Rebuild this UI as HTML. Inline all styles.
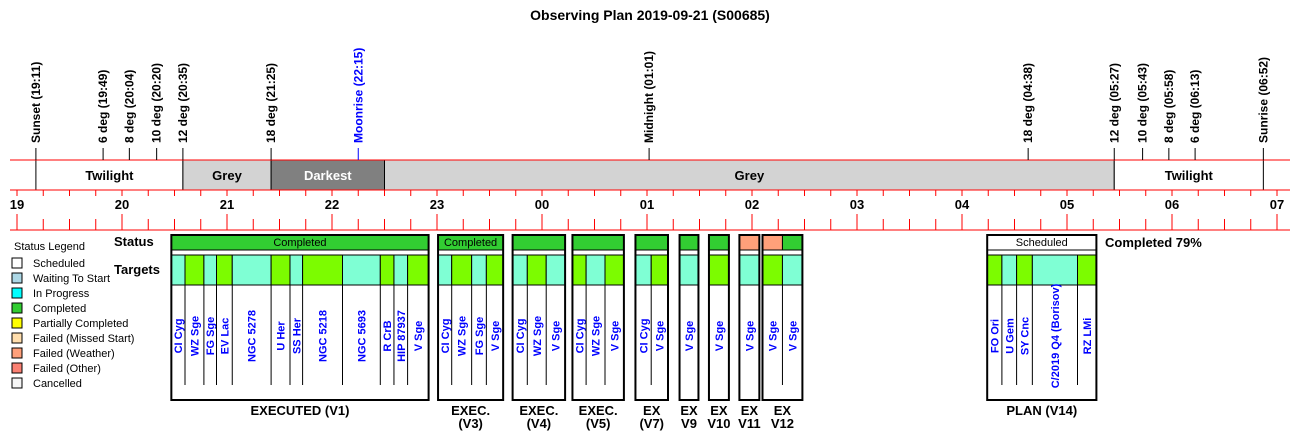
<!DOCTYPE html>
<html><head><meta charset="utf-8"><style>
body{margin:0;background:#fff}
svg{font-family:"Liberation Sans",Arial,sans-serif;display:block}
</style></head><body>
<svg id="c" width="1300" height="431" viewBox="0 0 1300 431">
<text x="650" y="20" text-anchor="middle" font-size="14" font-weight="bold">Observing Plan 2019-09-21 (S00685)</text>
</svg>
<script>
const hourLabels=["19","20","21","22","23","00","01","02","03","04","05","06","07"];
const eventNames=["Sunset (19:11)","6 deg (19:49)","8 deg (20:04)","10 deg (20:20)","12 deg (20:35)","18 deg (21:25)","Moonrise (22:15)","Midnight (01:01)","18 deg (04:38)","12 deg (05:27)","10 deg (05:43)","8 deg (05:58)","6 deg (06:13)","Sunrise (06:52)"];
const eventTimes=[19.18,19.82,20.07,20.33,20.58,21.42,22.25,25.02,28.63,29.45,29.72,29.97,30.22,30.87];
const eventBlue=[0,0,0,0,0,0,1,0,0,0,0,0,0,0];
const bandNames=["Twilight","Grey","Darkest","Grey","Twilight"];
const bandStart=[19.18,20.58,21.42,22.5,29.45];
const bandEnd=[20.58,21.42,22.5,29.45,30.87];
const bandFill=["#ffffff","#d3d3d3","#808080","#d3d3d3","#ffffff"];
const blockNames=[["EXECUTED (V1)"],["EXEC.","(V3)"],["EXEC.","(V4)"],["EXEC.","(V5)"],["EX","(V7)"],["EX","V9"],["EX","V10"],["EX","V11"],["EX","V12"],["PLAN (V14)"]];
const blockStatus=["Completed","Completed","","","","","","","","Scheduled"];
const targetBlock=[0,0,0,0,0,0,0,0,0,0,0,0, 1,1,1,1, 2,2,2, 3,3,3, 4,4, 5, 6, 7, 8,8, 9,9,9,9,9];
const targetNames=["CI Cyg","WZ Sge","FG Sge","EV Lac","NGC 5278","U Her","SS Her","NGC 5218","NGC 5693","R CrB","HIP 87937","V Sge","CI Cyg","WZ Sge","FG Sge","V Sge","CI Cyg","WZ Sge","V Sge","CI Cyg","WZ Sge","V Sge","CI Cyg","V Sge","V Sge","V Sge","V Sge","V Sge","V Sge","FO Ori","U Gem","SY Cnc","C/2019 Q4 (Borisov)","RZ LMi"];
const targetStart=[20.47,20.6,20.78,20.9,21.05,21.42,21.6,21.72,22.1,22.46,22.59,22.72, 23.01,23.14,23.33,23.47, 23.72,23.86,24.04, 24.29,24.42,24.6, 24.89,25.04, 25.31, 25.59, 25.88, 26.1,26.29, 28.24,28.38,28.52,28.67,29.1];
const targetEnd=[20.6,20.78,20.9,21.05,21.42,21.6,21.72,22.1,22.46,22.59,22.72,22.92, 23.14,23.33,23.47,23.63, 23.86,24.04,24.22, 24.42,24.6,24.78, 25.04,25.2, 25.49, 25.78, 26.07, 26.29,26.48, 28.38,28.52,28.67,29.1,29.28];
const targetColor=[0,1,0,1,0,1,0,1,0,1,0,1, 0,1,0,1, 0,1,0, 1,0,1, 0,1, 0, 1, 0, 1,0, 1,0,1,0,1];
const segBlock=[0,1,2,3,4,5,6,7,8,8,9];
const segStart=[20.47,23.01,23.72,24.29,24.89,25.31,25.59,25.88,26.1,26.29,28.24];
const segEnd=[22.92,23.63,24.22,24.78,25.2,25.49,25.78,26.07,26.29,26.48,29.28];
const segFill=["#32cd32","#32cd32","#32cd32","#32cd32","#32cd32","#32cd32","#32cd32","#ffa07a","#ffa07a","#32cd32","#ffffff"];
const legendNames=["Scheduled","Waiting To Start","In Progress","Completed","Partially Completed","Failed (Missed Start)","Failed (Weather)","Failed (Other)","Cancelled"];
const legendColors=["#ffffff","#add8e6","#00ffff","#32cd32","#ffff00","#ffdead","#ffa07a","#fa8072","#f5f5f5"];

const svg=document.getElementById('c');const NS="http://www.w3.org/2000/svg";
function x(h){return 17+105*(h-19);}
function mk(tag,a,txt){const e=document.createElementNS(NS,tag);for(const k in a)e.setAttribute(k,a[k]);if(txt!==undefined)e.textContent=txt;svg.appendChild(e);return e;}
// bands
bandNames.forEach((n,i)=>{
 const r=mk('rect',{x:x(bandStart[i]),y:160,width:x(bandEnd[i])-x(bandStart[i]),height:30,fill:bandFill[i],stroke:'#000','stroke-width':1});
 
 
 const t=mk('text',{x:(x(bandStart[i])+x(bandEnd[i]))/2,y:180,'text-anchor':'middle','font-size':13,'font-weight':'bold',fill:n=="Darkest"?'#fff':'#000'},n);
 
 
});
[160,190,230].forEach(y=>{const l=mk('line',{x1:10,x2:1290,y1:y,y2:y,stroke:'#f00','stroke-width':1});
 
 });
// events
eventNames.forEach((n,i)=>{
 const c=eventBlue[i]?'#00f':'#000';const ex=x(eventTimes[i]);
 const l=mk('line',{x1:ex,x2:ex,y1:148,y2:160,stroke:c});
 
 
 const t=mk('text',{x:0,y:0,transform:`translate(${ex+4},143) rotate(-90)`,'font-size':12,'font-weight':'bold',fill:c},n);
 
 
});
// hour ticks
for(let q=0;q<=48;q++){
 const h=19+q/4;const tx=x(h);const major=q%4==0;
 const a=mk('line',{x1:tx,x2:tx,y1:190,y2:196,stroke:'#f00'});
 
 
 const b=mk('line',{x1:tx,x2:tx,y1:major?214:219,y2:230,stroke:'#f00'});
 
 
}
hourLabels.forEach((l,i)=>{const t=mk('text',{x:x(19+i),y:209,'text-anchor':'middle','font-size':13,'font-weight':'bold'},l);
 
 });
// row labels
let t1=mk('text',{x:114,y:246,'font-size':13,'font-weight':'bold'},'Status');

let t2=mk('text',{x:114,y:274,'font-size':13,'font-weight':'bold'},'Targets');

let t3=mk('text',{x:1105,y:247,'font-size':13,'font-weight':'bold'},'Completed 79%');

// legend
let lt=mk('text',{x:14,y:250,'font-size':11},'Status Legend');

legendNames.forEach((n,i)=>{
 const y=258+i*15;
 const r=mk('rect',{x:12,y:y,width:10,height:10,fill:legendColors[i],stroke:'#000'});
 
 
 const t=mk('text',{x:33,y:y+9,'font-size':11},n);
 
 
});
// blocks
blockNames.forEach((nm,b)=>{
 let s=1e9,e=-1e9;targetBlock.forEach((bb,i)=>{if(bb==b){s=Math.min(s,targetStart[i]);e=Math.max(e,targetEnd[i]);}});
 const x0=x(s),x1=x(e);
 segBlock.forEach((sb,i)=>{if(sb==b){const r=mk('rect',{x:x(segStart[i]),y:235,width:x(segEnd[i])-x(segStart[i]),height:15,fill:segFill[i],stroke:'#000'});
  
  }});
 if(blockStatus[b]){const t=mk('text',{x:(x0+x1)/2,y:246,'text-anchor':'middle','font-size':11},blockStatus[b]);
  }
 targetBlock.forEach((bb,i)=>{if(bb!=b)return;
  const a=x(targetStart[i]),c=x(targetEnd[i]);
  const r=mk('rect',{x:a,y:255,width:c-a,height:30,fill:targetColor[i]?'#7cfc00':'#7fffd4',stroke:'#000'});
  
  
  if(a>x0+1){const l=mk('line',{x1:a,x2:a,y1:285,y2:385,stroke:'#000'});
   }
  const t=mk('text',{x:0,y:0,transform:`translate(${(a+c)/2+4},336) rotate(-90)`,'text-anchor':'middle','font-size':11,'font-weight':'bold',fill:'#00f'},targetNames[i]);
  
  
 });
 const box=mk('rect',{x:x0,y:235,width:x1-x0,height:165,fill:'none',stroke:'#000','stroke-width':2});
 
 
 nm.forEach((line,j)=>{const t=mk('text',{x:(x0+x1)/2,y:415+j*13,'text-anchor':'middle','font-size':13,'font-weight':'bold'},line);
  
  });
});
</script>
</body></html>
